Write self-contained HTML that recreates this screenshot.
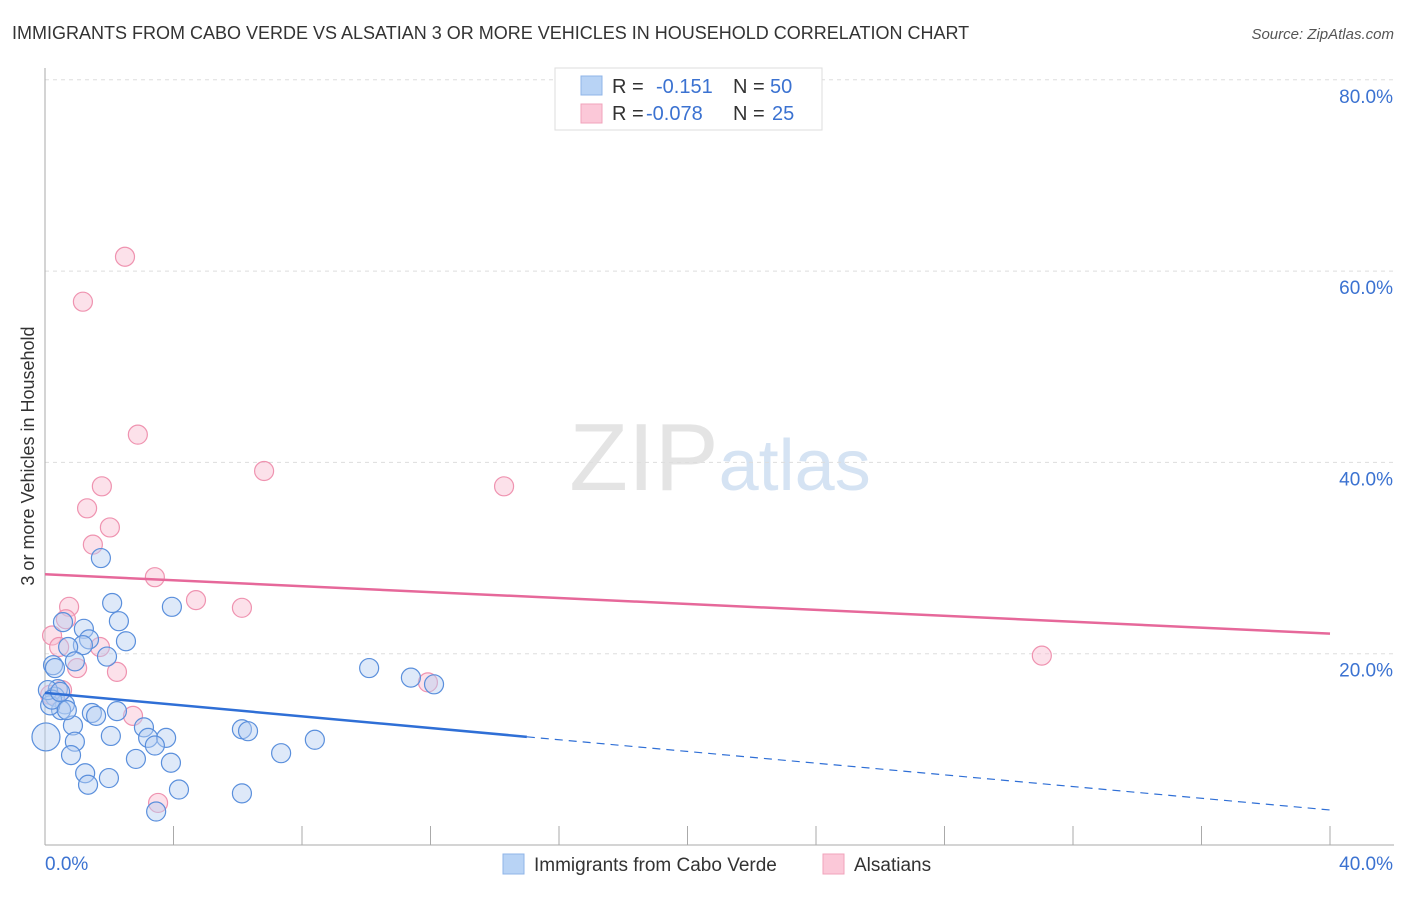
<!DOCTYPE html>
<html><head><meta charset="utf-8"><style>
body{margin:0;background:#fff;font-family:"Liberation Sans",sans-serif;}
svg text{font-family:"Liberation Sans",sans-serif;}
</style></head><body>
<svg id="chart" width="1406" height="892" xmlns="http://www.w3.org/2000/svg">
<text x="12" y="39" font-size="18" fill="#333">IMMIGRANTS FROM CABO VERDE VS ALSATIAN 3 OR MORE VEHICLES IN HOUSEHOLD CORRELATION CHART</text>
<text x="1394" y="39" font-size="15" fill="#555" text-anchor="end" font-style="italic">Source: ZipAtlas.com</text>
<text x="720" y="490" font-size="96" text-anchor="middle" fill="#e4e4e4" font-family="Liberation Serif">ZIP<tspan fill="#d5e3f3" font-family="Liberation Sans" font-size="72">atlas</tspan></text>
<text transform="translate(34,456) rotate(-90)" font-size="18" fill="#333" text-anchor="middle">3 or more Vehicles in Household</text>
<g id="grid"></g><g id="marks"></g>
<g>
<rect x="555" y="68" width="267" height="62" fill="#fff" stroke="#ddd"/>
<rect x="581" y="76" width="21" height="19" fill="#b8d3f5" stroke="#8fb4e8"/>
<rect x="581" y="104" width="21" height="19" fill="#fbc8d8" stroke="#f0a3bb"/>
<text x="612" y="93" font-size="20" fill="#333">R =</text><text x="656" y="93" font-size="20" fill="#3b72d1">-0.151</text>
<text x="733" y="93" font-size="20" fill="#333">N =</text><text x="770" y="93" font-size="20" fill="#3b72d1">50</text>
<text x="612" y="120" font-size="20" fill="#333">R =</text><text x="646" y="120" font-size="20" fill="#3b72d1">-0.078</text>
<text x="733" y="120" font-size="20" fill="#333">N =</text><text x="772" y="120" font-size="20" fill="#3b72d1">25</text>
</g>
<g>
<rect x="503" y="854" width="21" height="20" fill="#b8d3f5" stroke="#8fb4e8"/>
<text x="534" y="871" font-size="19" fill="#333">Immigrants from Cabo Verde</text>
<rect x="823" y="854" width="21" height="20" fill="#fbc8d8" stroke="#f0a3bb"/>
<text x="854" y="871" font-size="19" fill="#333">Alsatians</text>
</g>
</svg>
<script>
const blueX=[1.74,2.09,3.95,2.30,0.56,1.21,1.37,2.52,1.18,0.72,1.93,0.93,0.25,0.31,10.09,11.39,12.11,0.40,0.31,0.62,0.50,1.46,1.59,2.24,0.16,3.08,0.87,6.13,6.32,2.05,3.21,3.77,3.42,0.93,0.03,8.40,7.35,0.81,2.83,3.92,1.25,1.99,1.34,4.17,6.13,3.46,0.09,0.22,0.68,0.47];
const blueY=[30.0,25.3,24.9,23.4,23.3,22.6,21.5,21.3,20.9,20.7,19.7,19.2,18.8,18.5,18.5,17.5,16.8,16.3,15.5,14.7,14.1,13.8,13.5,14.0,14.6,12.3,12.5,12.1,11.9,11.4,11.2,11.2,10.4,10.8,11.3,11.0,9.6,9.4,9.0,8.6,7.5,7.0,6.3,5.8,5.4,3.5,16.2,15.2,14.1,16.0];
const pinkX=[2.49,1.18,2.89,6.82,14.29,1.77,1.31,2.02,1.49,3.42,0.75,4.70,6.13,0.65,0.22,0.44,1.71,1.00,2.24,31.03,11.92,2.74,3.52,0.16,0.53];
const pinkY=[61.5,56.8,42.9,39.1,37.5,37.5,35.2,33.2,31.4,28.0,24.9,25.6,24.8,23.6,21.9,20.7,20.7,18.5,18.1,19.8,17.0,13.5,4.4,15.7,16.2];
const blueTrend=[15.9,3.66];
const pinkTrend=[28.3,22.1];
const yTicks=[20,40,60,80];
const xTicks=[0,4,8,12,16,20,24,28,32,36,40];
const NS="http://www.w3.org/2000/svg";
const sx=v=>45+v*1285/40;
const sy=v=>845-v*191.3/20;
function mk(tag,attrs,parent){const e=document.createElementNS(NS,tag);for(const k in attrs)e.setAttribute(k,attrs[k]);parent.appendChild(e);return e;}
const grid=document.getElementById('grid'),marks=document.getElementById('marks');
yTicks.forEach(t=>{
 const l=mk('line',{x1:45,x2:1394,y1:sy(t),y2:sy(t),stroke:'#ddd','stroke-dasharray':'4,4'},grid);
 
 
 const tx=mk('text',{x:1393,y:sy(t)+23,'font-size':19,fill:'#3b72d1','text-anchor':'end'},grid);
 tx.textContent=t.toFixed(1)+'%';
 
 
});
const ax=mk('line',{x1:45,x2:45,y1:68,y2:845,stroke:'#aaa'},grid);


const xa=mk('line',{x1:45,x2:1394,y1:845,y2:845,stroke:'#aaa'},grid);


xTicks.forEach(t=>{
 const l=mk('line',{x1:sx(t),x2:sx(t),y1:826,y2:845,stroke:'#aaa'},grid);
 
 
});
[[0,'start',45],[40,'end',1393]].forEach(([v,a,x])=>{
 const tx=mk('text',{x:x,y:870,'font-size':19,fill:'#3b72d1','text-anchor':a},grid);
 tx.textContent=v.toFixed(1)+'%';
 
 
});
function pts(X,Y,fill,stroke,name){X.forEach((x,i)=>{
 const c=mk('circle',{cx:sx(x),cy:sy(Y[i]),r:(x<0.05?14:9.5),fill:fill,'fill-opacity':0.45,stroke:stroke,'stroke-width':1.2},marks);
 
 
});}
pts(pinkX,pinkY,'#f9bdd0','#ef93b0','alsatian-point');
pts(blueX,blueY,'#b5cff2','#5a8fdc','cabo-verde-point');
const bEnd=15;
const bAt=x=>blueTrend[0]+(blueTrend[1]-blueTrend[0])*x/40;
const b1=mk('line',{x1:sx(0),y1:sy(bAt(0)),x2:sx(bEnd),y2:sy(bAt(bEnd)),stroke:'#2f6fd6','stroke-width':2.5},marks);


const b2=mk('line',{x1:sx(bEnd),y1:sy(bAt(bEnd)),x2:sx(40),y2:sy(bAt(40)),stroke:'#2f6fd6','stroke-width':1.2,'stroke-dasharray':'8,6'},marks);


const p1=mk('line',{x1:sx(0),y1:sy(pinkTrend[0]),x2:sx(40),y2:sy(pinkTrend[1]),stroke:'#e6689a','stroke-width':2.5},marks);


</script>
</body></html>
